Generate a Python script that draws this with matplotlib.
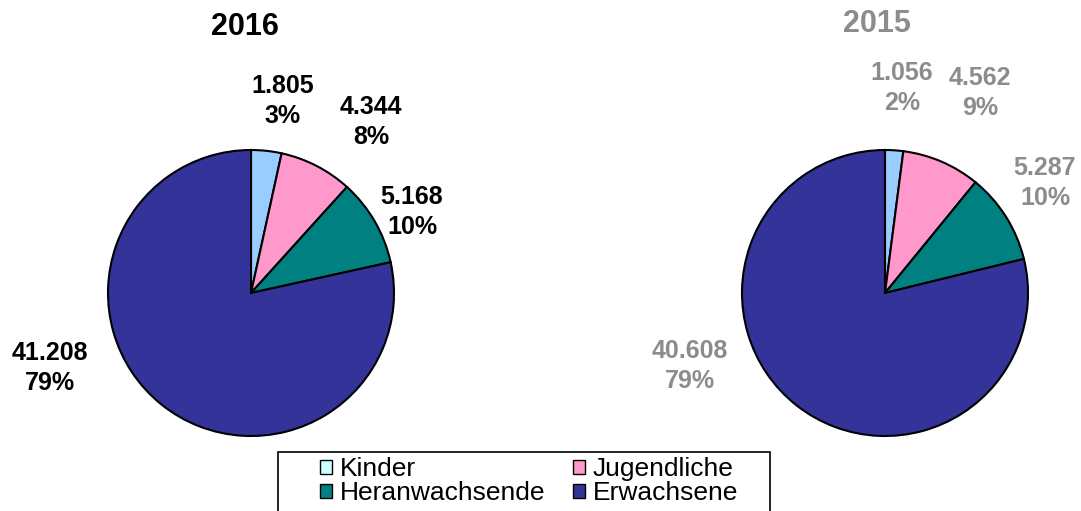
import matplotlib.pyplot as plt
from matplotlib.patches import Patch, Rectangle

plt.rcParams['font.family'] = ['Liberation Sans', 'DejaVu Sans']

# data
categories = ['Kinder', 'Jugendliche', 'Heranwachsende', 'Erwachsene']
values_2016 = [1805, 4344, 5168, 41208]
pct_2016 = [3, 8, 10, 79]
values_2015 = [1056, 4562, 5287, 40608]
pct_2015 = [2, 9, 10, 79]

colors = ['#99ccff', '#ff99cc', '#008080', '#333399']
legend_colors = ['#ccffff', '#ff99cc', '#008080', '#333399']

W, H = 1081, 511
fig = plt.figure(figsize=(W / 100, H / 100), dpi=100)
ax = fig.add_axes([0, 0, 1, 1])


def fmt(v):
    return f"{v:,}".replace(',', '.')


def draw_pie(vals, pcts, cx, cy, r, title, tcol, title_xy, label_xy):
    ax.pie(vals, colors=colors, startangle=90, counterclock=False,
           center=(cx, H - cy), radius=r,
           wedgeprops=dict(edgecolor='black', linewidth=1.5))
    ax.text(title_xy[0], H - title_xy[1], title, ha='center', va='center',
            fontsize=22, fontweight='bold', color=tcol)
    for v, p, (lx, ly) in zip(vals, pcts, label_xy):
        ax.text(lx, H - ly, f"{fmt(v)}\n{p}%", ha='center', va='center',
                fontsize=18, fontweight='bold', color=tcol, linespacing=1.3)


draw_pie(values_2016, pct_2016, 251, 293, 143, '2016', 'black', (245, 27),
         [(283, 101), (371, 122), (412, 212), (50, 368)])
draw_pie(values_2015, pct_2015, 885, 293, 143, '2015', '#8c8c8c', (877, 24),
         [(902, 88), (980, 93), (1045, 183), (690, 366)])

# pie() resets the limits, so set them afterwards
ax.set_xlim(0, W)
ax.set_ylim(0, H)
ax.set_aspect('equal')
ax.axis('off')

# legend frame (runs off the bottom edge like in the original)
ax.add_patch(Rectangle((278, -10), 492, H - 452 + 10, facecolor='white',
                       edgecolor='black', linewidth=1.2, zorder=5))

handles = [Patch(facecolor=c, edgecolor='black', linewidth=1) for c in legend_colors]
order = [0, 2, 1, 3]  # legend fills column-wise
leg = fig.legend([handles[i] for i in order], [categories[i] for i in order],
                 ncol=2, loc='upper left',
                 bbox_to_anchor=(320 / W, 1 - 457 / H),
                 fontsize=19, frameon=False,
                 handlelength=0.45, handleheight=0.45,
                 handletextpad=0.3, columnspacing=1.05, labelspacing=0.0,
                 borderpad=0, borderaxespad=0)

fig.savefig('out.png', dpi=100)
